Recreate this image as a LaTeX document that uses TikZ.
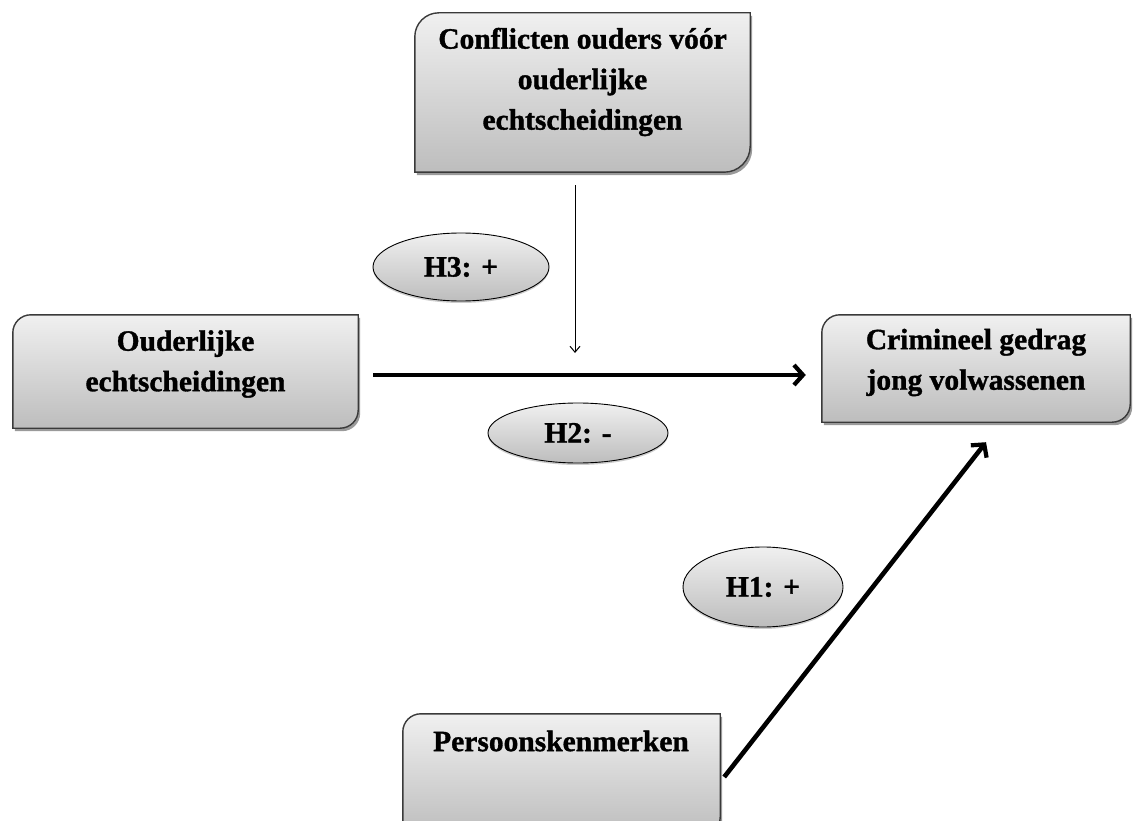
\documentclass[tikz,border=0pt]{standalone}
\usepackage{fontspec}
\setmainfont{Liberation Serif}[BoldFeatures={FakeBold=1.2}]
\usetikzlibrary{arrows.meta,shapes.geometric,backgrounds,shadows}
\definecolor{cardtop}{HTML}{F0F0F0}
\definecolor{cardbot}{HTML}{BDBDBD}
\definecolor{cardline}{HTML}{3A3A3A}
\definecolor{shadowc}{HTML}{9A9A9A}
\newcommand{\cardpath}[4]{% node, shift, radius top-left, radius bottom-right
  ([shift={(#2)}]#1.south west) -- ([shift={(#2)},yshift=-#3]#1.north west)
  arc[start angle=180,end angle=90,radius=#3]
  -- ([shift={(#2)}]#1.north east) -- ([shift={(#2)},yshift=#4]#1.south east)
  arc[start angle=0,end angle=-90,radius=#4] -- cycle}
\newcommand{\drawcard}[3]{%
  \fill[shadowc] \cardpath{#1}{2pt,-3pt}{#2}{#3};
  \shade[top color=cardtop,bottom color=cardbot,draw=cardline,line width=1.4pt] \cardpath{#1}{0pt,0pt}{#2}{#3};}
\tikzset{
  x=1pt,y=1pt,
  card/.style={rectangle,draw=none,inner sep=0pt},
  cardtext/.style={align=center,inner sep=0pt,font=\fontsize{29.5}{40.5}\selectfont\bfseries},
  hyp/.style={ellipse,draw=black,line width=0.9pt,top color=cardtop,bottom color=cardbot,
    inner sep=0pt,font=\fontsize{29.5}{34}\selectfont\bfseries,
    drop shadow={shadow xshift=0pt,shadow yshift=-2pt,fill=shadowc}},
  thickarrow/.style={line width=4.6pt,-{Straight Barb[length=9pt,width=20pt,line width=4.2pt]}},
  thinarrow/.style={line width=1pt,-{Straight Barb[length=6pt,width=10pt,line width=1pt]}}
}
\begin{document}
\begin{tikzpicture}
\useasboundingbox (0,0) rectangle (1133,-821);
% boxes (shape holders)
\node[card,minimum width=335pt,minimum height=159pt] (conf) at (582.5,-92.5) {};
\node[card,minimum width=345pt,minimum height=113pt] (ouder) at (185.5,-371.5) {};
\node[card,minimum width=308pt,minimum height=107pt] (crim) at (976,-368.5) {};
\node[card,minimum width=317pt,minimum height=121pt] (pers) at (561.5,-774.5) {};
\begin{pgfonlayer}{background}
\drawcard{conf}{24pt}{26pt}
\drawcard{ouder}{18pt}{18pt}
\drawcard{crim}{18pt}{18pt}
\drawcard{pers}{18pt}{18pt}
\end{pgfonlayer}
% texts
\node[cardtext] (conftext) at (582.5,-82) {Conflicten ouders vóór\\ouderlijke\\echtscheidingen};
\node[cardtext] (oudertext) at (185.5,-364) {Ouderlijke\\echtscheidingen};
\node[cardtext] (crimtext) at (976,-362.5) {Crimineel gedrag\\jong volwassenen};
\node[cardtext] (perstext) at (561,-741) {Persoonskenmerken};
% hypotheses
\node[hyp,minimum width=176pt,minimum height=68pt] (h3) at (461,-267) {H3: +};
\node[hyp,minimum width=180pt,minimum height=60pt] (h2) at (578,-433) {H2: -};
\node[hyp,minimum width=160pt,minimum height=80pt] (h1) at (763,-587) {H1: +};
% connectors
\coordinate (mod) at (575,-353);
\draw[thinarrow] ([xshift=-7.5pt,yshift=-13pt]conf.south) -- (mod);
\draw[thickarrow] ([xshift=15pt,yshift=-3.5pt]ouder.east) -- ([xshift=-16pt,yshift=-6.5pt]crim.west);
\draw[thickarrow] ([xshift=4pt,yshift=-2.5pt]pers.east) -- ([xshift=10pt,yshift=-20pt]crim.south);
\end{tikzpicture}
\end{document}
